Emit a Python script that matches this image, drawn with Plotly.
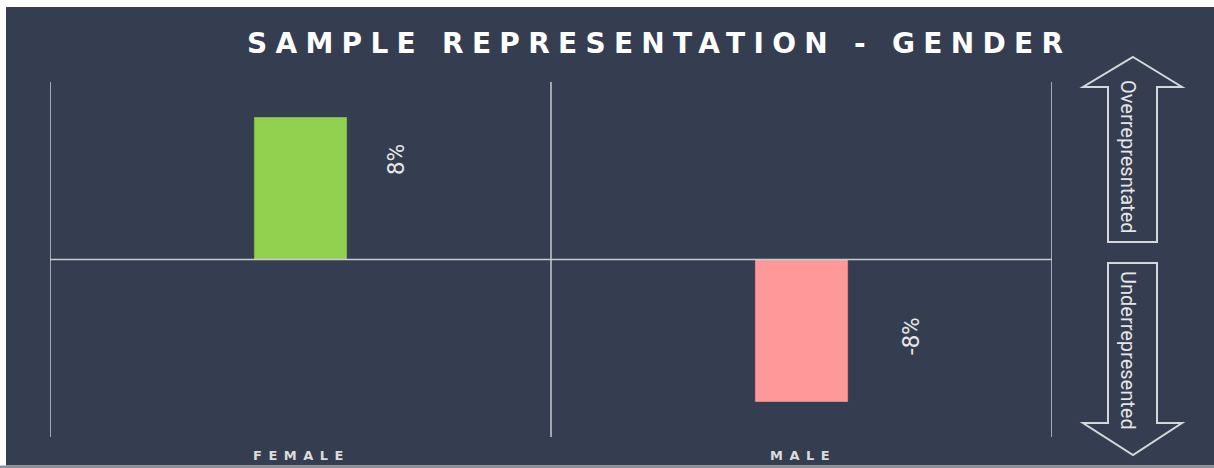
import plotly.graph_objects as go

categories = ["FEMALE", "MALE"]
values = [8, -8]
value_labels = ["8%", "-8%"]
bar_colors = ["#92d050", "#ff9999"]
bar_line_colors = ["#7fb845", "#e08585"]
title_text = "SAMPLE REPRESENTATION - GENDER"
arrow_up_text = "Overrepresntated"
arrow_down_text = "Underrepresented"

W, H = 1214, 468
L, R, T, B = 50, 1052, 82, 437
BG = "#343e50"
LINE = "#c9ccd1"


def px(x):
    return (x - L) / (R - L)


def py(y):
    return (B - y) / (B - T)


def ls(s, sp):
    return f'<span style="letter-spacing:{sp}px">{s}</span>'


fig = go.Figure()
fig.add_trace(go.Bar(
    x=list(range(len(categories))),
    y=values,
    width=0.184,
    marker=dict(color=bar_colors, line=dict(color=bar_line_colors, width=1)),
    hoverinfo="skip",
))

shapes = []
shapes.append(dict(type="rect", xref="paper", yref="paper", layer="below",
                   x0=px(6), x1=px(W + 2), y0=py(465.5), y1=py(7),
                   fillcolor=BG, line=dict(width=0)))
shapes.append(dict(type="rect", xref="paper", yref="paper", layer="below",
                   x0=px(0), x1=px(W + 2), y0=py(469), y1=py(465.5),
                   fillcolor="#8a8f99", line=dict(width=0)))
for xb in [-0.5, 0.5, 1.5]:
    shapes.append(dict(type="line", xref="x", yref="paper", x0=xb, x1=xb, y0=0, y1=1,
                       line=dict(color=LINE, width=1.5), layer="above"))
shapes.append(dict(type="line", xref="paper", yref="y", x0=0, x1=1, y0=0, y1=0,
                   line=dict(color=LINE, width=1.5), layer="above"))


def path(points):
    return "M " + " L ".join(f"{px(a):.5f},{py(b):.5f}" for a, b in points) + " Z"


up = [(1133, 57), (1182, 87), (1157, 87), (1157, 242), (1108, 242), (1108, 87), (1083, 87)]
down = [(1108, 263), (1157, 263), (1157, 423), (1182, 423), (1133, 455), (1083, 423), (1108, 423)]
for pts in (up, down):
    shapes.append(dict(type="path", xref="paper", yref="paper", path=path(pts),
                       line=dict(color="#d4d7dc", width=2), fillcolor=BG))

annotations = []
annotations.append(dict(xref="paper", yref="paper", x=px(659), y=py(44),
                        text=ls(title_text, 8.3), showarrow=False,
                        font=dict(family="DejaVu Sans", size=28, color="white", weight="bold"),
                        xanchor="center", yanchor="middle"))
label_pos = [(396, 160), (911, 336)]
for i, t in enumerate(value_labels):
    annotations.append(dict(x=px(label_pos[i][0]), y=py(label_pos[i][1]), xref="paper", yref="paper",
                            text=t, showarrow=False, textangle=-90,
                            font=dict(family="Liberation Sans Narrow, Roboto", size=24, color="#e6e6e6"),
                            xanchor="center", yanchor="middle"))
for i, c in enumerate(categories):
    annotations.append(dict(x=i, y=py(455), xref="x", yref="paper", text=ls(c, 6.5),
                            showarrow=False, xshift=1,
                            font=dict(family="DejaVu Sans", size=13, color="#dcdcdc", weight="bold"),
                            xanchor="center", yanchor="middle"))
for txt, yc in ((arrow_up_text, 157), (arrow_down_text, 350)):
    annotations.append(dict(xref="paper", yref="paper", x=px(1128), y=py(yc), text=txt,
                            showarrow=False, textangle=90, xanchor="center", yanchor="middle",
                            font=dict(family="Liberation Sans Narrow, Roboto", size=20, color="#e6e6e6")))

fig.update_layout(
    width=W, height=H,
    margin=dict(l=L, r=W - R, t=T, b=H - B, pad=0),
    paper_bgcolor="white",
    plot_bgcolor=BG,
    showlegend=False,
    shapes=shapes,
    annotations=annotations,
    xaxis=dict(range=[-0.5, 1.5], showgrid=False, zeroline=False, showticklabels=False,
               fixedrange=True),
    yaxis=dict(range=[-10, 10], showgrid=False, zeroline=False, showticklabels=False,
               fixedrange=True),
)

fig.write_html("out.html", config={"displayModeBar": False},
               post_script="document.body.style.margin='0';document.body.style.overflow='hidden';")
